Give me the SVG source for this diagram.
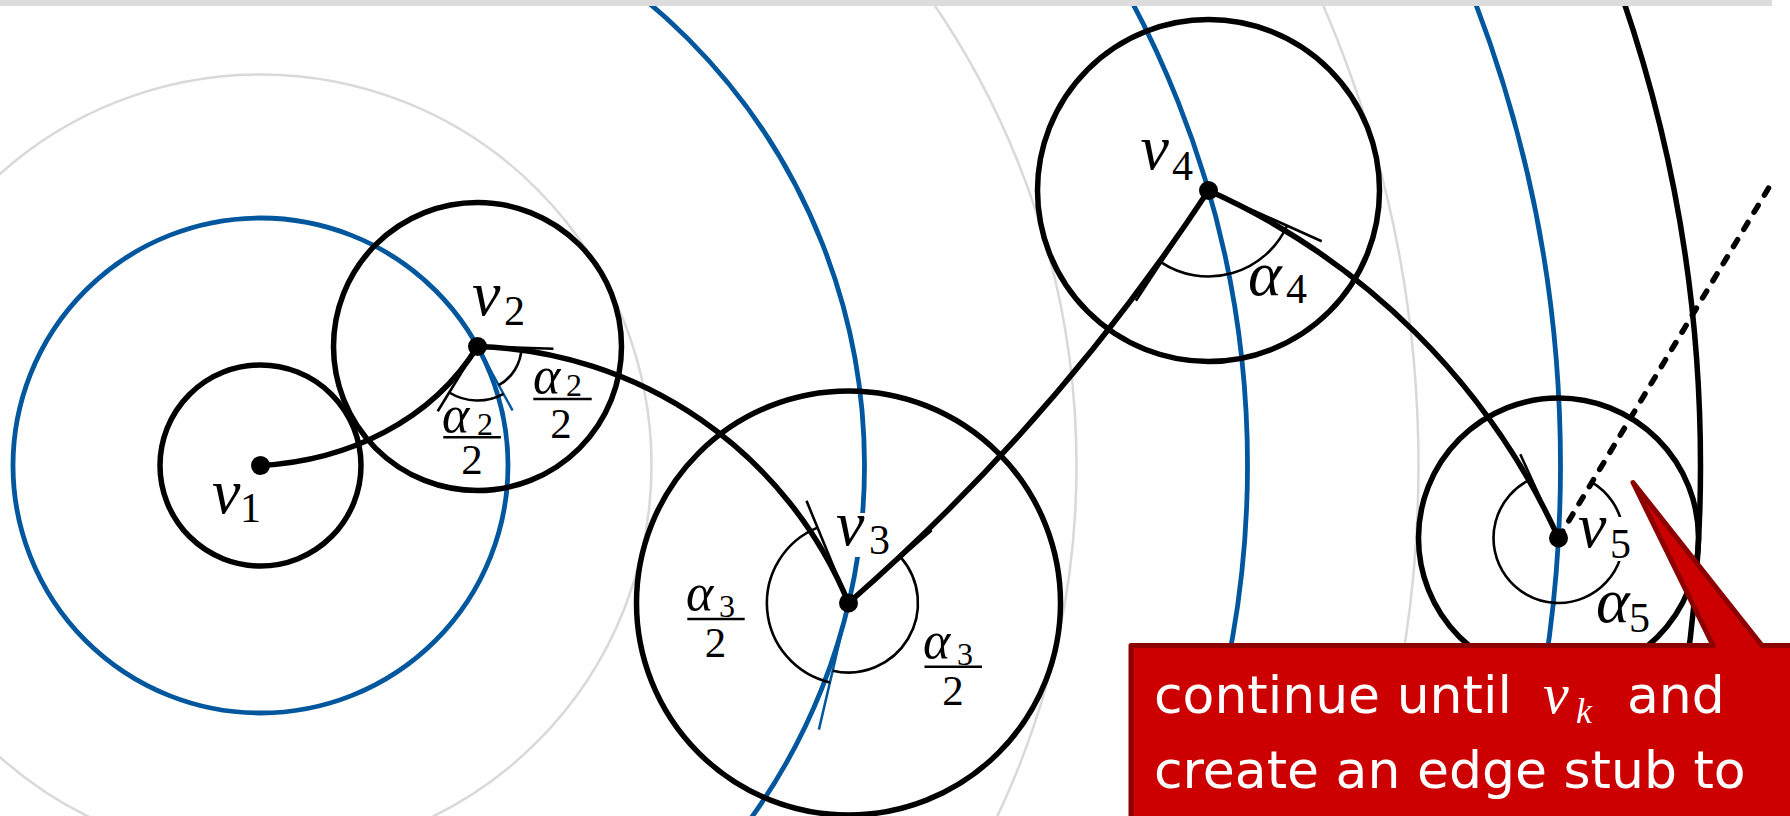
<svg xmlns="http://www.w3.org/2000/svg" width="1790" height="816" viewBox="0 0 1790 816">
<style>
.bg{fill:#ffffff}
.gray{fill:none;stroke:#d9d9d9;stroke-width:2.5}
.blue{fill:none;stroke:#00579e;stroke-width:4.8}
.bluet{fill:none;stroke:#00579e;stroke-width:2.5}
.ring{fill:none;stroke:#000;stroke-width:5.5}
.edge{fill:none;stroke:#000;stroke-width:5.5;stroke-linecap:round}
.thin{fill:none;stroke:#000;stroke-width:2.6}
.dot{fill:#000}
.m{font-family:"Liberation Serif","DejaVu Serif",serif;font-style:italic;font-size:64px;fill:#000}
.s{font-family:"Liberation Serif","DejaVu Serif",serif;font-size:42px;fill:#000}
.fa{font-family:"Liberation Serif","DejaVu Serif",serif;font-style:italic;font-size:52px;fill:#000}
.fs{font-family:"Liberation Serif","DejaVu Serif",serif;font-size:32px;fill:#000}
.fd{font-family:"Liberation Serif","DejaVu Serif",serif;font-size:43px;fill:#000;text-anchor:middle}
.bar{stroke:#000;stroke-width:2.4}
.mask{fill:#ffffff}
.c{font-family:"DejaVu Sans","Liberation Sans",sans-serif;font-size:52px;fill:#ffffff}
.cm{font-family:"Liberation Serif","DejaVu Serif",serif;font-style:italic;fill:#ffffff}
</style>
<rect class="bg" x="0" y="0" width="1790" height="816"/>
<g id="rings">
<circle class="gray" cx="260.5" cy="465.5" r="391"/>
<circle class="gray" cx="260.5" cy="465.5" r="816"/>
<circle class="gray" cx="260.5" cy="465.5" r="1158"/>
<circle class="ring" cx="260.5" cy="465.5" r="1440" stroke-width="4.5"/>
<circle class="blue" cx="260.5" cy="465.5" r="247.5"/>
<circle class="blue" cx="260.5" cy="465.5" r="604"/>
<circle class="blue" cx="260.5" cy="465.5" r="987"/>
<circle class="blue" cx="260.5" cy="465.5" r="1300"/>
</g>
<g id="node-circles">
<circle class="ring" cx="260.5" cy="465.5" r="100.5"/>
<circle class="ring" cx="477.5" cy="346.5" r="144"/>
<circle class="ring" cx="848.5" cy="603" r="212"/>
<circle class="ring" cx="1208.5" cy="190.5" r="171"/>
<circle class="ring" cx="1558.5" cy="538" r="140"/>
</g>
<g id="connectors">
<path class="edge" d="M 260.5 465.5 C 347.6 460.9 431.8 420.8 477.5 346.5"/>
<path class="edge" d="M 477.5 346.5 A 414 414 0 0 1 848.5 603"/>
<path class="edge" d="M 848.5 603 A 2029 2029 0 0 0 1208.5 190.5"/>
<path class="edge" d="M 1208.5 190.5 A 699 699 0 0 1 1558.5 538"/>
<path class="edge" d="M 1558.5 538 L 1772.4 181.7" stroke-linecap="butt" stroke-width="6" stroke-dasharray="8 12"/>
</g>
<g id="tangents">
<line class="thin" x1="477.5" y1="346.5" x2="437.7" y2="411.2"/>
<line class="thin" x1="477.5" y1="346.5" x2="553.5" y2="348.7"/>
<line class="bluet" x1="477.5" y1="346.5" x2="512.6" y2="410.5"/>
<line class="thin" x1="848.5" y1="603" x2="806.5" y2="500.8"/>
<line class="thin" x1="848.5" y1="603" x2="931.7" y2="530.3"/>
<line class="bluet" x1="848.5" y1="603" x2="818.9" y2="729.6"/>
<line class="thin" x1="1208.5" y1="190.5" x2="1135.9" y2="300.7"/>
<line class="thin" x1="1208.5" y1="190.5" x2="1321.7" y2="241.2"/>
<line class="thin" x1="1558.5" y1="538" x2="1520.3" y2="454.3"/>
</g>
<g id="angles">
<path class="thin" d="M 503.5 393.8 A 54 54 0 0 1 449.2 392.5"/>
<path class="thin" d="M 521.5 347.8 A 44 44 0 0 1 498.7 385.1"/>
<path class="thin" d="M 817.5 527.6 A 81.5 81.5 0 0 0 829.9 682.4"/>
<path class="thin" d="M 832.7 670.7 A 69.5 69.5 0 0 0 900.8 557.3"/>
<path class="thin" d="M 1287 225.7 A 86 86 0 0 1 1161.2 262.3"/>
<path class="thin" d="M 1592 482.3 A 65 65 0 1 1 1531.5 478.9"/>
</g>
<g id="v1">
<circle class="dot" cx="260.5" cy="465.5" r="9.5"/>
<text class="m" x="212" y="513">v</text><text class="s" x="240" y="522">1</text>
</g>
<g id="v2">
<circle class="dot" cx="477.5" cy="346.5" r="9.5"/>
<text class="m" x="472" y="315">v</text><text class="s" x="504" y="325">2</text>
<text class="fa" x="533" y="393">α</text><text class="fs" x="566" y="396">2</text>
<line class="bar" x1="533.3" y1="399" x2="591.7" y2="399"/>
<text class="fd" x="561" y="438">2</text>
<text class="fa" x="442" y="431.5">α</text><text class="fs" x="477" y="434.5">2</text>
<line class="bar" x1="443.3" y1="437.3" x2="500.9" y2="437.3"/>
<text class="fd" x="472" y="473.5">2</text>
</g>
<g id="v3">
<circle class="dot" cx="848.5" cy="603" r="9.5"/>
<rect class="mask" x="838" y="513" width="55" height="44"/>
<text class="m" x="836" y="545">v</text><text class="s" x="869" y="554">3</text>
<text class="fa" x="686" y="610">α</text><text class="fs" x="719" y="616.5">3</text>
<line class="bar" x1="687.3" y1="619" x2="744.7" y2="619"/>
<text class="fd" x="715.5" y="657">2</text>
<text class="fa" x="923" y="658">α</text><text class="fs" x="957" y="665">3</text>
<line class="bar" x1="924.5" y1="666.7" x2="982" y2="666.7"/>
<text class="fd" x="953" y="705">2</text>
</g>
<g id="v4">
<circle class="dot" cx="1208.5" cy="190.5" r="9.5"/>
<text class="m" x="1140.5" y="168.5">v</text><text class="s" x="1172" y="179.5">4</text>
<text class="m" x="1248" y="295">α</text><text class="s" x="1286" y="303">4</text>
</g>
<g id="v5">
<circle class="dot" cx="1558.5" cy="538" r="9.5"/>
<rect class="mask" x="1578" y="517" width="58" height="44"/>
<text class="m" x="1578" y="546.5">v</text><text class="s" x="1610" y="558">5</text>
<text class="m" x="1596" y="621.5">α</text><text class="s" x="1629" y="631.5">5</text>
</g>
<g id="callout">
<path d="M 1131 645.5 L 1713 645.5 L 1633 482.5 L 1762 645.5 L 1800 645.5 L 1800 830 L 1131 830 Z" fill="#cc0000" stroke="#8c0000" stroke-width="5" stroke-linejoin="round"/>
<text class="c" x="1154" y="713">continue until</text>
<text class="cm" x="1543" y="713" font-size="58">v</text>
<text class="cm" x="1576" y="723" font-size="36">k</text>
<text class="c" x="1627" y="713">and</text>
<text class="c" x="1154" y="788">create an edge stub to</text>
</g>
<rect id="topbar" x="0" y="0" width="1772" height="6" fill="#dcdcdc"/>
</svg>
